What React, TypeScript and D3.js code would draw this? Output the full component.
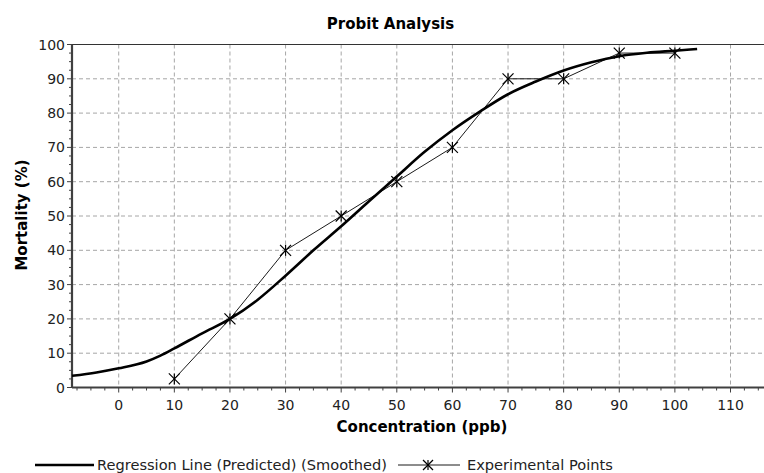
import React from "react";
import * as d3 from "d3";

const title = "Probit Analysis";
const xTitle = "Concentration (ppb)";
const yTitle = "Mortality (%)";
const legendLabels = ["Regression Line (Predicted) (Smoothed)", "Experimental Points"];

const xTicks = [0, 10, 20, 30, 40, 50, 60, 70, 80, 90, 100, 110];
const yTicks = [0, 10, 20, 30, 40, 50, 60, 70, 80, 90, 100];

const regX = [-8.4, -4, 0, 5, 7.5, 10, 15, 20, 25, 30, 35, 40, 45, 50, 55, 60, 65, 70, 75, 80, 85, 90, 95, 100, 104];
const regY = [3.4, 4.4, 5.6, 7.6, 9.3, 11.4, 15.8, 20, 25.6, 32.6, 40, 47, 54.3, 61.5, 68.7, 75, 80.5, 85.5, 89.2, 92.4, 94.8, 96.6, 97.6, 98.2, 98.7];

const expX = [10, 20, 30, 40, 50, 60, 70, 80, 90, 100];
const expY = [2.5, 20, 40, 50, 60, 70, 90, 90, 97.5, 97.5];

const W = 764;
const H = 473;
const FONT = "'DejaVu Sans', Verdana, sans-serif";

function Star({ cx, cy, r }: { cx: number; cy: number; r: number }) {
  return (
    <g stroke="#000" strokeWidth={1.2}>
      <line x1={cx} y1={cy - r} x2={cx} y2={cy + r} />
      <line x1={cx - r} y1={cy - r} x2={cx + r} y2={cy + r} />
      <line x1={cx - r} y1={cy + r} x2={cx + r} y2={cy - r} />
    </g>
  );
}

export default function App() {
  const left = 72;
  const top = 44.5;
  const bottom = 387.5;
  const x = d3.scaleLinear().domain([-8.4, 118.9]).range([left, 780]);
  const y = d3.scaleLinear().domain([0, 100]).range([bottom, top]);

  const xMinor = d3.range(-7.5, 119, 2.5).filter((v) => Math.abs(v % 10) > 0.01);
  const yMinor = d3.range(0, 100.1, 2.5).filter((v) => Math.abs(v % 10) > 0.01);

  const regData = regX.map((v, i) => [v, regY[i]] as [number, number]);
  const expData = expX.map((v, i) => [v, expY[i]] as [number, number]);
  const line = d3
    .line<[number, number]>()
    .x((d) => x(d[0]))
    .y((d) => y(d[1]));
  const smooth = d3
    .line<[number, number]>()
    .x((d) => x(d[0]))
    .y((d) => y(d[1]))
    .curve(d3.curveMonotoneX);

  return (
    <svg
      width={W}
      height={H}
      style={{ position: "absolute", left: 0, top: 0, background: "#fff" }}
      fontFamily={FONT}
    >
      <rect x={0} y={0} width={W} height={H} fill="#fff" />
      {/* grid */}
      <g stroke="#a6a6a6" strokeWidth={1} strokeDasharray="4,3">
        {xTicks.map((t) => (
          <line key={"gx" + t} x1={x(t)} x2={x(t)} y1={top} y2={bottom} />
        ))}
        {yTicks
          .filter((t) => t > 0 && t < 100)
          .map((t) => (
            <line key={"gy" + t} x1={left} x2={W} y1={y(t)} y2={y(t)} />
          ))}
      </g>
      {/* frame */}
      <line x1={left} x2={W} y1={top} y2={top} stroke="#333" strokeWidth={1.2} />
      <line x1={left} x2={W} y1={bottom} y2={bottom} stroke="#404040" strokeWidth={2.2} />
      <line x1={left} x2={left} y1={top} y2={bottom} stroke="#404040" strokeWidth={2.2} />
      {/* ticks */}
      <g stroke="#404040" strokeWidth={1}>
        {xTicks.map((t) => (
          <line key={"tx" + t} x1={x(t)} x2={x(t)} y1={bottom} y2={bottom + 5} />
        ))}
        {xMinor.map((t) => (
          <line key={"mx" + t} x1={x(t)} x2={x(t)} y1={bottom} y2={bottom + 3} />
        ))}
        {yTicks.map((t) => (
          <line key={"ty" + t} x1={left - 5} x2={left} y1={y(t)} y2={y(t)} />
        ))}
        {yMinor.map((t) => (
          <line key={"my" + t} x1={left - 3} x2={left} y1={y(t)} y2={y(t)} />
        ))}
      </g>
      {/* tick labels */}
      <g fontSize={14} fill="#222">
        {xTicks.map((t) => (
          <text key={"lx" + t} x={x(t)} y={410} textAnchor="middle">
            {t}
          </text>
        ))}
        {yTicks.map((t) => (
          <text key={"ly" + t} x={65} y={y(t) + 5} textAnchor="end">
            {t}
          </text>
        ))}
      </g>
      {/* titles */}
      <text x={390.5} y={29} textAnchor="middle" fontSize={15} fontWeight="bold" fill="#000">
        {title}
      </text>
      <text x={422} y={432} textAnchor="middle" fontSize={15} fontWeight="bold" fill="#000">
        {xTitle}
      </text>
      <text
        transform={`translate(27,215) rotate(-90)`}
        textAnchor="middle"
        fontSize={15}
        fontWeight="bold"
        fill="#000"
      >
        {yTitle}
      </text>
      {/* series */}
      <path d={line(expData) || ""} fill="none" stroke="#000" strokeWidth={0.9} />
      {expData.map((d, i) => (
        <Star key={"s" + i} cx={x(d[0])} cy={y(d[1])} r={5.5} />
      ))}
      <path d={smooth(regData) || ""} fill="none" stroke="#000" strokeWidth={2.6} />
      {/* legend */}
      <line x1={35} x2={94} y1={465} y2={465} stroke="#000" strokeWidth={2.6} />
      <text x={97} y={470} fontSize={14.6} fill="#222">
        {legendLabels[0]}
      </text>
      <line x1={398} x2={460} y1={465} y2={465} stroke="#000" strokeWidth={0.9} />
      <Star cx={428} cy={465} r={5} />
      <text x={467} y={470} fontSize={14.6} fill="#222">
        {legendLabels[1]}
      </text>
    </svg>
  );
}
